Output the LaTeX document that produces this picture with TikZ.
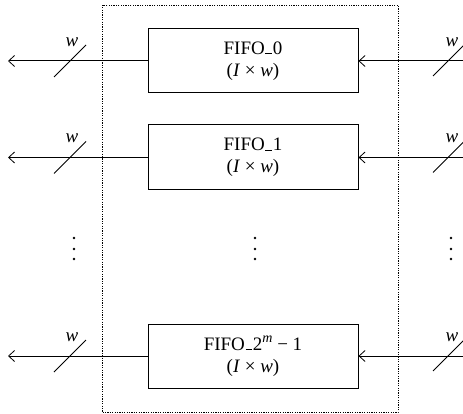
\documentclass[tikz,border=0pt]{standalone}
\usepackage{fontspec}
\setmainfont{Liberation Serif}
\usetikzlibrary{arrows.meta}
\newcommand{\lowbar}{\kern0.03em\rule[-0.01em]{0.36em}{0.075em}\kern0.03em}
\begin{document}
\begin{tikzpicture}[x=1pt,y=-1pt,
  fifo/.style={draw, line width=1pt, minimum width=210pt, minimum height=64pt, inner sep=0pt,
    align=center, font=\fontsize{19}{22}\selectfont},
  bus/.style={line width=1pt, -{Straight Barb[length=6pt,width=11pt,line width=0.8pt]}},
  slash/.style={line width=0.9pt},
  wlab/.style={font=\fontsize{19}{22}\selectfont\itshape, inner sep=0pt},
  frame/.style={draw, line width=0.8pt, dash pattern=on 1.2pt off 1.2pt},
  dotmark/.style={fill, circle, inner sep=0pt, minimum size=2.6pt}]
\useasboundingbox (0,0) rectangle (463,414);
\clip (0,0) rectangle (463,414);
% frame
\node[frame, minimum width=295.5pt, minimum height=407.5pt, inner sep=0pt] (box) at (250.25,208.75) {};
% FIFOs
\node[fifo] (f0) at (253,61) {FIFO\lowbar 0\\(\textit{I} × \textit{w})};
\node[fifo, minimum height=65pt] (f1) at (253,157.5) {FIFO\lowbar 1\\(\textit{I} × \textit{w})};
\node[fifo] (f2) at (253,356) {FIFO\lowbar 2\raisebox{0.4em}{\fontsize{14}{14}\selectfont\textit{m}} − 1\\(\textit{I} × \textit{w})};
% end coordinates
\foreach \n/\y in {0/61,1/157.5,2/356}{
  \coordinate (L\n) at (8,\y);
  \coordinate (R\n) at (463,\y);
  \draw[bus] (f\n.west) -- (L\n);
  \draw[bus] (R\n) -- (f\n.east);
  \coordinate (SL\n) at (70,\y);
  \coordinate (SR\n) at (448,\y);
  \draw[slash] ([shift={(-16,16)}]SL\n) -- ([shift={(16,-16)}]SL\n);
  \draw[slash] ([shift={(-15,15)}]SR\n) -- ([shift={(16,-16)}]SR\n);
  \node[wlab] (wl\n) at ([shift={(2,-19)}]SL\n) {w};
  \node[wlab] (wr\n) at ([shift={(4,-19)}]SR\n) {w};
}
% vertical dots
\foreach \x/\k in {74/a,255/b,451/c}{
  \node[dotmark] (d\k1) at (\x,238) {};
  \node[dotmark] (d\k2) at (\x,249) {};
  \node[dotmark] (d\k3) at (\x,259) {};
}
\end{tikzpicture}
\end{document}
